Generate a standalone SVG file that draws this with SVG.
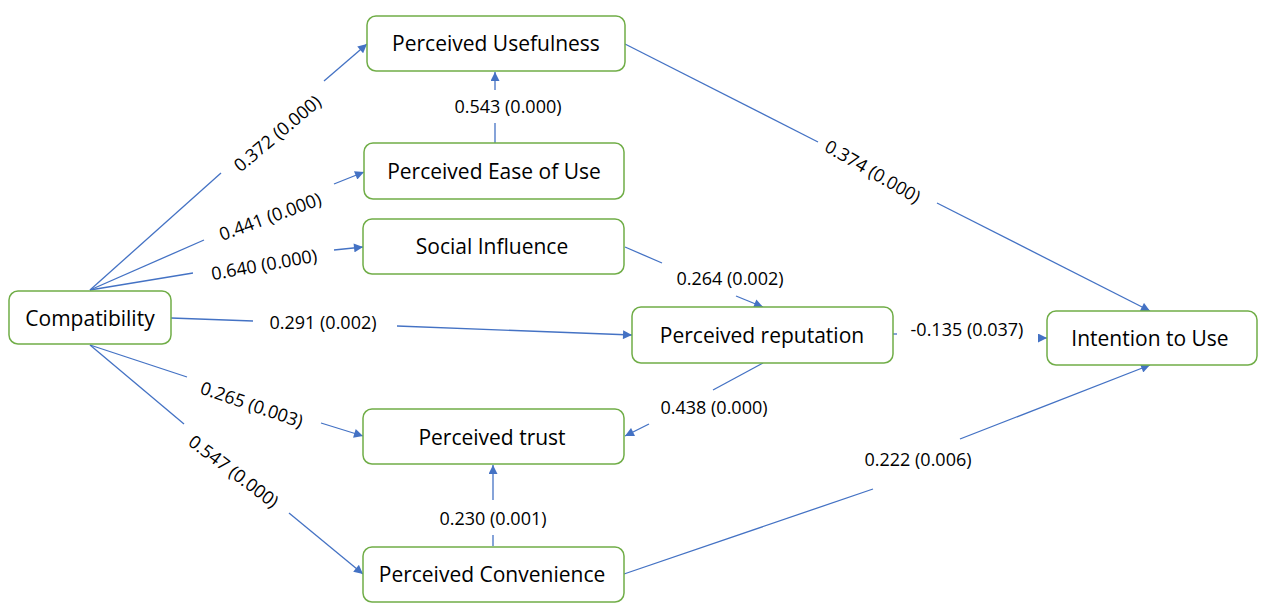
<svg xmlns="http://www.w3.org/2000/svg" width="1270" height="615" viewBox="0 0 1270 615">
<style>
.box{fill:#fff;stroke:#70AD47;stroke-width:1.5}
.nt{font-family:"Open Sans","Noto Sans",sans-serif;font-size:21px;fill:#000;text-anchor:middle;dominant-baseline:central}
.ln{stroke:#4472C4;stroke-width:1.3;fill:none}
.lb{font-family:"Open Sans","Noto Sans",sans-serif;font-size:18px;fill:#000;text-anchor:middle;dominant-baseline:central}
</style>
<defs>
<marker id="ah" viewBox="0 0 10 10" refX="10" refY="5" markerWidth="10" markerHeight="9" markerUnits="userSpaceOnUse" orient="auto">
<path d="M0,0 L10,5 L0,10 z" fill="#4472C4"/>
</marker>
</defs>
<rect width="1270" height="615" fill="#fff"/>
<g id="connectors">
<line class="ln" x1="90" y1="290" x2="221" y2="173"/><line class="ln" x1="324" y1="81" x2="367" y2="44" marker-end="url(#ah)"/>
<text class="lb" transform="rotate(-40 277 133)" x="277" y="133">0.372 (0.000)</text>
<line class="ln" x1="90" y1="290" x2="204" y2="240"/><line class="ln" x1="334" y1="184" x2="364" y2="172" marker-end="url(#ah)"/>
<text class="lb" transform="rotate(-20 270 216)" x="270" y="216">0.441 (0.000)</text>
<line class="ln" x1="90" y1="290" x2="193" y2="273"/><line class="ln" x1="334" y1="250" x2="363" y2="247" marker-end="url(#ah)"/>
<text class="lb" transform="rotate(-10 264 264)" x="264" y="264">0.640 (0.000)</text>
<line class="ln" x1="171" y1="318" x2="253" y2="321"/><line class="ln" x1="397" y1="326" x2="632" y2="335" marker-end="url(#ah)"/>
<text class="lb" x="323" y="322">0.291 (0.002)</text>
<line class="ln" x1="90" y1="345" x2="187" y2="377"/><line class="ln" x1="321" y1="423" x2="363" y2="436" marker-end="url(#ah)"/>
<text class="lb" transform="rotate(19 252 404)" x="252" y="404">0.265 (0.003)</text>
<line class="ln" x1="90" y1="345" x2="184" y2="424"/><line class="ln" x1="289" y1="513" x2="363" y2="574" marker-end="url(#ah)"/>
<text class="lb" transform="rotate(37 234 471)" x="234" y="471">0.547 (0.000)</text>
<line class="ln" x1="495" y1="143" x2="495" y2="123"/><line class="ln" x1="495" y1="90" x2="495" y2="72" marker-end="url(#ah)"/>
<text class="lb" x="508" y="106">0.543 (0.000)</text>
<line class="ln" x1="625" y1="44" x2="818" y2="142"/><line class="ln" x1="937" y1="203" x2="1150" y2="311" marker-end="url(#ah)"/>
<text class="lb" transform="rotate(30 873 171)" x="873" y="171">0.374 (0.000)</text>
<line class="ln" x1="625" y1="247" x2="662" y2="263"/><line class="ln" x1="736" y1="296" x2="763" y2="307" marker-end="url(#ah)"/>
<text class="lb" x="730" y="278">0.264 (0.002)</text>
<line class="ln" x1="893" y1="334" x2="897" y2="334"/><line class="ln" x1="1040" y1="338" x2="1047" y2="338" marker-end="url(#ah)"/>
<text class="lb" x="967" y="329">-0.135 (0.037)</text>
<line class="ln" x1="763" y1="363" x2="713" y2="390"/><line class="ln" x1="649" y1="424" x2="625" y2="436" marker-end="url(#ah)"/>
<text class="lb" x="714" y="407">0.438 (0.000)</text>
<line class="ln" x1="493" y1="546" x2="493" y2="535"/><line class="ln" x1="493" y1="500" x2="493" y2="465" marker-end="url(#ah)"/>
<text class="lb" x="493" y="518">0.230 (0.001)</text>
<line class="ln" x1="624" y1="574" x2="873" y2="489"/><line class="ln" x1="960" y1="439" x2="1150" y2="365" marker-end="url(#ah)"/>
<text class="lb" x="918" y="459">0.222 (0.006)</text>
</g>
<g id="compatibility"><rect class="box" x="9" y="291" width="162" height="53" rx="9"/><text class="nt" x="90" y="318">Compatibility</text></g>
<g id="perceived-usefulness"><rect class="box" x="367" y="16" width="258" height="55" rx="9"/><text class="nt" x="496" y="43">Perceived Usefulness</text></g>
<g id="perceived-ease-of-use"><rect class="box" x="364" y="143" width="260" height="56" rx="9"/><text class="nt" x="494" y="171">Perceived Ease of Use</text></g>
<g id="social-influence"><rect class="box" x="363" y="219" width="261" height="55" rx="9"/><text class="nt" x="492" y="246">Social Influence</text></g>
<g id="perceived-reputation"><rect class="box" x="632" y="307" width="261" height="56" rx="9"/><text class="nt" x="762" y="335">Perceived reputation</text></g>
<g id="intention-to-use"><rect class="box" x="1047" y="311" width="210" height="54" rx="9"/><text class="nt" x="1150" y="338">Intention to Use</text></g>
<g id="perceived-trust"><rect class="box" x="363" y="409" width="261" height="55" rx="9"/><text class="nt" x="492" y="437">Perceived trust</text></g>
<g id="perceived-convenience"><rect class="box" x="363" y="547" width="261" height="55" rx="9"/><text class="nt" x="492" y="574">Perceived Convenience</text></g>
</svg>
